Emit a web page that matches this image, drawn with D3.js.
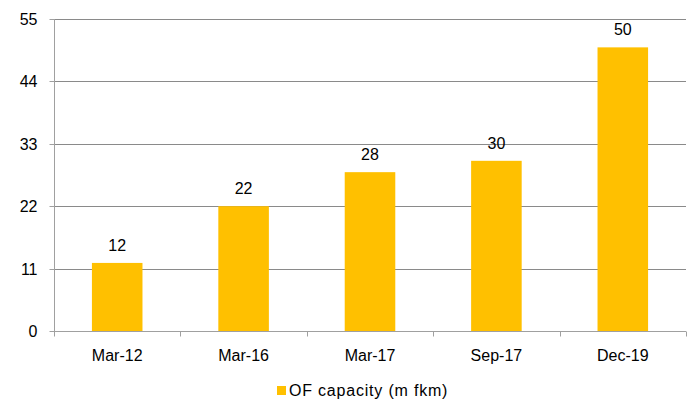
<!DOCTYPE html>
<html>
<head>
<meta charset="utf-8">
<script src="https://cdn.jsdelivr.net/npm/d3@7"></script>
<style>
  html, body { margin: 0; padding: 0; background: #fff; }
  svg { display: block; }
  text { font-family: "Liberation Sans", Arial, sans-serif; fill: #000; }
</style>
</head>
<body>
<svg id="chart" width="688" height="403"></svg>
<script>
// Optical fibre capacity, million fibre-km
const categories = ["Mar-12", "Mar-16", "Mar-17", "Sep-17", "Dec-19"];
const values = [12, 22, 28, 30, 50];
const yTicks = [0, 11, 22, 33, 44, 55];
const seriesName = "OF capacity (m fkm)";

const svg = d3.select("#chart");
const margin = { left: 54, right: 2, top: 19, bottom: 72 };
const W = 688, H = 403;
const x0 = margin.left, x1 = W - margin.right;
const y0 = H - margin.bottom, y1 = margin.top;

const x = d3.scaleBand().domain(categories).range([x0, x1])
  .paddingInner(0.6).paddingOuter(0.3);
const y = d3.scaleLinear().domain([0, 55]).range([y0, y1]);

const axisColor = "#a0a0a0";
const fontSize = "16px";

// horizontal gridlines
svg.append("g").selectAll("line").data(yTicks.filter(d => d > 0)).join("line")
  .attr("x1", x0).attr("x2", x1)
  .attr("y1", d => Math.round(y(d)) + 0.5).attr("y2", d => Math.round(y(d)) + 0.5)
  .attr("stroke", "#8a8a8a").attr("stroke-width", 1);

// bars
svg.append("g").selectAll("rect").data(values).join("rect")
  .attr("x", (d, i) => x(categories[i]))
  .attr("width", x.bandwidth())
  .attr("y", d => y(d))
  .attr("height", d => y(0) - y(d))
  .attr("fill", "#FFC000");

// value labels above bars
svg.append("g").selectAll("text").data(values).join("text")
  .attr("x", (d, i) => x(categories[i]) + x.bandwidth() / 2)
  .attr("y", d => y(d) - 12)
  .attr("text-anchor", "middle")
  .style("font-size", fontSize)
  .text(d => d);

// y axis
const yAxis = d3.axisLeft(y).tickValues(yTicks).tickSize(5).tickPadding(12);
const gy = svg.append("g").attr("transform", `translate(${x0 + 0.5},0)`).call(yAxis);
gy.select(".domain").attr("stroke", axisColor).attr("d", `M0,${y1}V${y0}`);
gy.selectAll(".tick line").attr("stroke", axisColor);
gy.selectAll(".tick").attr("transform", d => `translate(0,${Math.round(y(d)) + 0.5})`);
gy.selectAll("text").style("font-size", fontSize).attr("font-family", null).attr("fill", "#000");

// x axis with category boundary ticks
const gx = svg.append("g").attr("transform", `translate(0,${Math.round(y0) + 0.5})`);
gx.append("line").attr("x1", x0).attr("x2", x1).attr("stroke", axisColor);
const step = x.step();
const bounds = d3.range(categories.length + 1).map(i => x0 + i * step);
gx.selectAll("line.b").data(bounds).join("line").attr("class", "b")
  .attr("x1", d => Math.round(d) + 0.5).attr("x2", d => Math.round(d) + 0.5)
  .attr("y1", 0).attr("y2", 5).attr("stroke", axisColor);
gx.selectAll("text").data(categories).join("text")
  .attr("x", d => x(d) + x.bandwidth() / 2)
  .attr("y", 29)
  .attr("text-anchor", "middle")
  .style("font-size", fontSize)
  .text(d => d);

// legend
const lg = svg.append("g").attr("transform", "translate(277,386)");
lg.append("rect").attr("width", 9).attr("height", 9).attr("fill", "#FFC000");
lg.append("text").attr("x", 12).attr("y", 10)
  .style("font-size", fontSize).style("letter-spacing", "0.8px").text(seriesName);
</script>
</body>
</html>
